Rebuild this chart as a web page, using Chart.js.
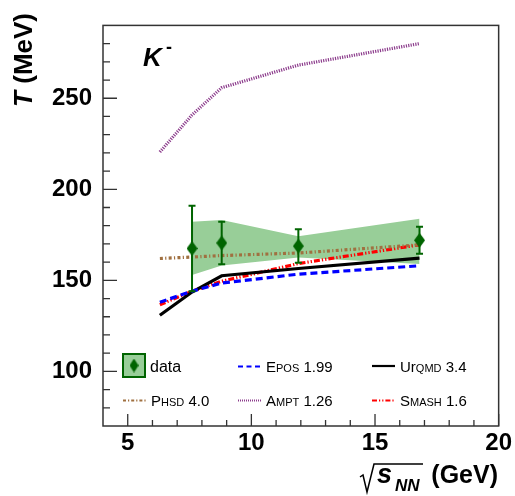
<!DOCTYPE html>
<html>
<head>
<meta charset="utf-8">
<script src="https://cdn.jsdelivr.net/npm/chart.js@4.4.0/dist/chart.umd.min.js"></script>
<style>
  body { margin: 0; background: #fff; }
  #wrap { width: 515px; height: 496px; }
</style>
</head>
<body>
<div id="wrap"><canvas id="myChart"></canvas></div>
<script>
'use strict';
// measured points (K-)
let energies = [7.6, 8.8, 11.9, 16.8];
let dataT = [167.5, 170.5, 168.8, 172];
let statErr = [23.5, 11.7, 9.2, 7.4];
let sysHigh = [182.2, 183.1, 174.2, 183.8];
let sysLow = [152.9, 158.2, 162.5, 159];

// model curves
let modelEnergies = [6.3, 7.6, 8.8, 11.9, 16.8];
let eposT = [138, 144, 148.5, 153.4, 158];
let urqmdT = [130.8, 143.6, 152.5, 156.5, 162.2];
let phsdT = [162, 162.8, 163.6, 165, 169.5];
let amptT = [220.5, 240.8, 255.8, 268.2, 280];
let smashT = [136.6, 144, 149.5, 159.2, 169.5];

let xTicks = [5, 10, 15, 20];
let yTicks = [100, 150, 200, 250];

let darkGreen = 'rgb(0,100,0)';
let bandGreen = 'rgb(152,206,152)';
let brown = 'rgb(160,112,64)';
let purple = 'rgb(140,60,140)';
let fontName = '"Liberation Sans", Arial, sans-serif';

function pairs(xs, ys) {
    return xs.map((v, i) => ({ x: v, y: ys[i] }));
}

function makeDiamond(w, h, color) {
    let c = document.createElement('canvas');
    c.width = w; c.height = h;
    let g = c.getContext('2d');
    g.fillStyle = color;
    g.beginPath();
    g.moveTo(w / 2, 0); g.lineTo(w, h / 2); g.lineTo(w / 2, h); g.lineTo(0, h / 2);
    g.closePath();
    g.fill();
    return c;
}

let diamond = makeDiamond(11, 15, darkGreen);

let models = [
    { name: 'epos', data: eposT, color: 'rgb(0,0,255)', dash: [7, 4] },
    { name: 'urqmd', data: urqmdT, color: '#000', dash: [] },
    { name: 'phsd', data: phsdT, color: brown, dash: [3, 2.3, 1.2, 2.3] },
    { name: 'ampt', data: amptT, color: purple, dash: [1.2, 1.2] },
    { name: 'smash', data: smashT, color: 'rgb(255,0,0)', dash: [6, 2, 1.3, 2, 1.3, 2] }
];

let datasets = [{
    label: 'data',
    data: pairs(energies, dataT),
    pointStyle: diamond,
    pointRadius: 7,
    showLine: false,
    order: 0
}];
for (let m of models) {
    datasets.push({
        label: m.name,
        data: pairs(modelEnergies, m.data),
        showLine: true,
        borderColor: m.color,
        borderWidth: 3.2,
        borderDash: m.dash,
        borderCapStyle: 'butt',
        pointRadius: 0,
        fill: false,
        order: 1
    });
}
datasets.push({
    label: 'sysHigh',
    data: pairs(energies, sysHigh),
    showLine: true,
    borderWidth: 0,
    pointRadius: 0,
    backgroundColor: bandGreen,
    fill: '+1',
    order: 5
});
datasets.push({
    label: 'sysLow',
    data: pairs(energies, sysLow),
    showLine: true,
    borderWidth: 0,
    pointRadius: 0,
    fill: false,
    order: 5
});

let errorBars = {
    id: 'errorBars',
    beforeDatasetDraw(chart, args) {
        if (args.index !== 0) return;
        let ctx = chart.ctx, xs = chart.scales.x, ys = chart.scales.y;
        ctx.save();
        ctx.strokeStyle = darkGreen;
        ctx.lineWidth = 2;
        for (let i = 0; i < energies.length; i++) {
            let px = xs.getPixelForValue(energies[i]);
            let top = ys.getPixelForValue(dataT[i] + statErr[i]);
            let bot = ys.getPixelForValue(dataT[i] - statErr[i]);
            ctx.beginPath();
            ctx.moveTo(px, top); ctx.lineTo(px, bot);
            ctx.moveTo(px - 3.5, top); ctx.lineTo(px + 3.5, top);
            ctx.moveTo(px - 3.5, bot); ctx.lineTo(px + 3.5, bot);
            ctx.stroke();
        }
        ctx.restore();
    }
};

// draw mixed big / small-caps text, returns end x
function drawParts(ctx, parts, x, y) {
    for (let p of parts) {
        ctx.font = p[1] + 'px ' + fontName;
        ctx.fillText(p[0], x, y);
        x += ctx.measureText(p[0]).width;
    }
    return x;
}

let decorations = {
    id: 'decorations',
    afterDraw(chart) {
        let ctx = chart.ctx, a = chart.chartArea;
        let xs = chart.scales.x, ys = chart.scales.y;
        ctx.save();

        // frame and inner ticks
        ctx.strokeStyle = '#333';
        ctx.lineWidth = 1.5;
        ctx.strokeRect(a.left, a.top, a.right - a.left, a.bottom - a.top);
        ctx.lineWidth = 1.3;
        ctx.beginPath();
        for (let v = 5; v <= 20; v++) {
            let px = xs.getPixelForValue(v);
            let len = v % 5 === 0 ? 12 : 6;
            ctx.moveTo(px, a.bottom); ctx.lineTo(px, a.bottom - len);
        }
        for (let v = 80; v <= 280; v += 10) {
            let py = ys.getPixelForValue(v);
            let len = v % 50 === 0 ? 14 : 7;
            ctx.moveTo(a.left, py); ctx.lineTo(a.left + len, py);
        }
        ctx.stroke();

        ctx.fillStyle = '#000';
        ctx.textBaseline = 'alphabetic';
        ctx.textAlign = 'left';

        // particle label
        ctx.font = 'italic bold 26px ' + fontName;
        ctx.fillText('K', 143, 66);
        ctx.font = 'bold 18px ' + fontName;
        ctx.fillText('-', 166, 53);

        // y title
        ctx.save();
        ctx.translate(32, 13);
        ctx.rotate(-Math.PI / 2);
        ctx.font = 'italic bold 26px ' + fontName;
        let wT = ctx.measureText('T').width;
        ctx.font = 'bold 26px ' + fontName;
        let wRest = ctx.measureText(' (MeV)').width;
        let sx = -(wT + wRest);
        ctx.font = 'italic bold 26px ' + fontName;
        ctx.fillText('T', sx, 0);
        ctx.font = 'bold 26px ' + fontName;
        ctx.fillText(' (MeV)', sx + wT, 0);
        ctx.restore();

        // x title
        ctx.lineWidth = 1.5;
        ctx.strokeStyle = '#000';
        ctx.beginPath();
        ctx.moveTo(360, 477); ctx.lineTo(363, 475); ctx.lineTo(367, 492);
        ctx.lineTo(374, 464); ctx.lineTo(423, 464);
        ctx.stroke();
        ctx.font = 'italic bold 27px ' + fontName;
        ctx.fillText('s', 377, 483);
        ctx.font = 'italic bold 17px ' + fontName;
        ctx.fillText('NN', 395, 491);
        ctx.font = 'bold 25px ' + fontName;
        ctx.textAlign = 'right';
        ctx.fillText('(GeV)', 498, 483);
        ctx.textAlign = 'left';

        // legend
        let row1 = 372, row2 = 406;
        ctx.fillStyle = bandGreen;
        ctx.fillRect(123, 354, 22, 23);
        ctx.strokeStyle = darkGreen;
        ctx.lineWidth = 2;
        ctx.strokeRect(123, 354, 22, 23);
        ctx.drawImage(makeDiamond(9, 14, darkGreen), 129.5, 358.5);
        ctx.fillStyle = '#000';
        drawParts(ctx, [['data', 16]], 150, row1);

        let legLines = [
            { x: 123, y: 400.5, color: brown, dash: [3, 2, 1.2, 2], text: [['P', 15], ['HSD', 11], [' 4.0', 15]] },
            { x: 238, y: 366.5, color: 'rgb(0,0,255)', dash: [5, 3.5], text: [['E', 15], ['POS', 11], [' 1.99', 15]] },
            { x: 238, y: 400.5, color: purple, dash: [1, 1], text: [['A', 15], ['MPT', 11], [' 1.26', 15]] },
            { x: 372, y: 366, color: '#000', dash: [], text: [['U', 15], ['r', 15], ['QMD', 11], [' 3.4', 15]] },
            { x: 372, y: 400.5, color: 'rgb(255,0,0)', dash: [5, 2, 1.2, 2, 1.2, 2], text: [['S', 15], ['MASH', 11], [' 1.6', 15]] }
        ];
        for (let l of legLines) {
            ctx.strokeStyle = l.color;
            ctx.lineWidth = 2.2;
            ctx.setLineDash(l.dash);
            ctx.beginPath();
            ctx.moveTo(l.x, l.y); ctx.lineTo(l.x + 23, l.y);
            ctx.stroke();
            ctx.setLineDash([]);
            drawParts(ctx, l.text, l.x + 28, l.y + 5.5);
        }
        ctx.restore();
    }
};

let ctx = document.getElementById('myChart').getContext('2d');

let myChart = new Chart(ctx, {
    type: 'scatter',
    data: { datasets: datasets },
    options: {
        responsive: true,
        maintainAspectRatio: false,
        animation: false,
        layout: { padding: { left: 0, right: 15, top: 11, bottom: 0 } },
        plugins: {
            legend: { display: false },
            tooltip: { enabled: false }
        },
        scales: {
            x: {
                type: 'linear',
                min: 4,
                max: 20,
                afterBuildTicks: s => { s.ticks = xTicks.map(v => ({ value: v })); },
                afterFit: s => { s.height = 70; },
                grid: { display: false, drawTicks: false },
                border: { display: false },
                ticks: {
                    font: { family: fontName, size: 24, weight: 'bold' },
                    color: '#000',
                    padding: 3,
                    maxRotation: 0,
                    autoSkip: false
                }
            },
            y: {
                type: 'linear',
                min: 70,
                max: 290,
                afterBuildTicks: s => { s.ticks = yTicks.map(v => ({ value: v })); },
                afterFit: s => { s.width = 103; },
                grid: { display: false, drawTicks: false },
                border: { display: false },
                ticks: {
                    font: { family: fontName, size: 24, weight: 'bold' },
                    color: '#000',
                    padding: 11,
                    autoSkip: false
                }
            }
        }
    },
    plugins: [errorBars, decorations]
});
</script>
</body>
</html>
